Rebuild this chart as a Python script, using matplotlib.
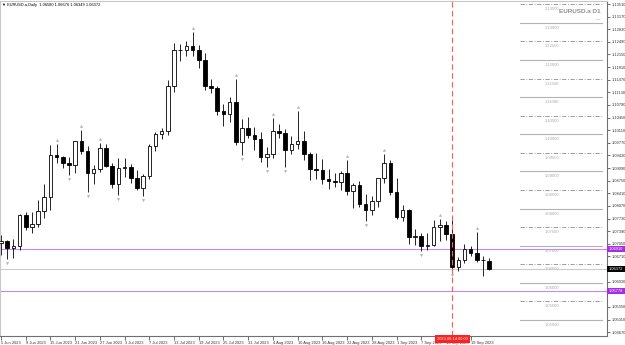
import matplotlib
matplotlib.use('Agg')
import matplotlib.pyplot as plt
from matplotlib.transforms import offset_copy, blended_transform_factory

# EURUSD.a daily candles, 5 Jun 2023 .. 22 Sep 2023
opens = [1.0708, 1.0712, 1.0693, 1.0698, 1.0782, 1.0750, 1.0757, 1.0793, 1.0831, 1.0945,
         1.0940, 1.0922, 1.0917, 1.0982, 1.0956, 1.0896, 1.0906, 1.0962, 1.0915, 1.0866,
         1.0910, 1.0912, 1.0882, 1.0855, 1.0888, 1.0968, 1.1000, 1.1009, 1.1131, 1.1227,
         1.1228, 1.1238, 1.1228, 1.1201, 1.1130, 1.1124, 1.1064, 1.1056, 1.1086, 1.0979,
         1.1016, 1.0997, 1.0986, 1.0939, 1.0948, 1.1010, 1.1004, 1.0958, 1.0975, 1.0982,
         1.0947, 1.0906, 1.0904, 1.0879, 1.0873, 1.0872, 1.0896, 1.0847, 1.0863, 1.0811,
         1.0796, 1.0820, 1.0881, 1.0924, 1.0844, 1.0776, 1.0797, 1.0722, 1.0726, 1.0698,
         1.0701, 1.0750, 1.0755, 1.0732, 1.0643, 1.0660, 1.0692, 1.0679, 1.0662, 1.0658]
highs = [1.0730, 1.0716, 1.0718, 1.0786, 1.0790, 1.0790, 1.0823, 1.0865, 1.0971, 1.0973,
         1.0942, 1.0938, 1.0983, 1.1012, 1.0969, 1.0918, 1.0976, 1.0975, 1.0924, 1.0935,
         1.0935, 1.0920, 1.0903, 1.0893, 1.0975, 1.1006, 1.1017, 1.1145, 1.1245, 1.1244,
         1.1250, 1.1276, 1.1240, 1.1218, 1.1150, 1.1130, 1.1082, 1.1100, 1.1149, 1.1041,
         1.1046, 1.1019, 1.1005, 1.0966, 1.1043, 1.1028, 1.1015, 1.0996, 1.1064, 1.1010,
         1.0953, 1.0950, 1.0933, 1.0906, 1.0895, 1.0902, 1.0930, 1.0870, 1.0875, 1.0840,
         1.0835, 1.0882, 1.0946, 1.0932, 1.0882, 1.0810, 1.0800, 1.0745, 1.0734, 1.0733,
         1.0768, 1.0772, 1.0766, 1.0769, 1.0670, 1.0704, 1.0698, 1.0737, 1.0672, 1.0668]
lows = [1.0675, 1.0665, 1.0667, 1.0688, 1.0743, 1.0733, 1.0751, 1.0774, 1.0796, 1.0924,
        1.0910, 1.0891, 1.0897, 1.0946, 1.0844, 1.0867, 1.0898, 1.0913, 1.0855, 1.0836,
        1.0885, 1.0870, 1.0850, 1.0833, 1.0880, 1.0955, 1.0987, 1.0998, 1.1114, 1.1197,
        1.1210, 1.1211, 1.1178, 1.1120, 1.1110, 1.1053, 1.1021, 1.1032, 1.0970, 1.0944,
        1.0990, 1.0957, 1.0925, 1.0913, 1.0937, 1.0990, 1.0913, 1.0946, 1.0960, 1.0930,
        1.0878, 1.0880, 1.0865, 1.0853, 1.0857, 1.0851, 1.0836, 1.0802, 1.0803, 1.0766,
        1.0783, 1.0805, 1.0870, 1.0836, 1.0771, 1.0766, 1.0705, 1.0702, 1.0686, 1.0688,
        1.0700, 1.0712, 1.0715, 1.0631, 1.0632, 1.0652, 1.0673, 1.0655, 1.0617, 1.0635]
closes = [1.0712, 1.0693, 1.0698, 1.0782, 1.0750, 1.0757, 1.0793, 1.0831, 1.0945, 1.0940,
          1.0922, 1.0917, 1.0982, 1.0956, 1.0896, 1.0906, 1.0962, 1.0915, 1.0866, 1.0910,
          1.0912, 1.0882, 1.0855, 1.0888, 1.0968, 1.1000, 1.1009, 1.1131, 1.1227, 1.1228,
          1.1238, 1.1228, 1.1201, 1.1130, 1.1124, 1.1064, 1.1056, 1.1086, 1.0979, 1.1016,
          1.0997, 1.0986, 1.0939, 1.0948, 1.1010, 1.1004, 1.0958, 1.0975, 1.0982, 1.0947,
          1.0906, 1.0904, 1.0879, 1.0873, 1.0872, 1.0896, 1.0847, 1.0863, 1.0811, 1.0796,
          1.0820, 1.0881, 1.0924, 1.0844, 1.0776, 1.0797, 1.0722, 1.0726, 1.0698, 1.0701,
          1.0750, 1.0755, 1.0732, 1.0643, 1.0660, 1.0692, 1.0679, 1.0662, 1.0660, 1.0637]

# fractal arrows (bar index)
fractal_up = [9, 13, 16, 31, 38, 44, 48, 56, 62, 71, 77]
fractal_down = [1, 11, 14, 19, 23, 39, 43, 46, 59, 68, 73]

# date axis, one label every 4 bars
date_labels = ["5 Jun 2023", "9 Jun 2023", "15 Jun 2023", "21 Jun 2023", "27 Jun 2023",
               "3 Jul 2023", "7 Jul 2023", "13 Jul 2023", "19 Jul 2023", "25 Jul 2023",
               "31 Jul 2023", "4 Aug 2023", "10 Aug 2023", "16 Aug 2023", "22 Aug 2023",
               "28 Aug 2023", "1 Sep 2023", "7 Sep 2023", "13 Sep 2023", "19 Sep 2023"]

# price scale labels on the right
price_labels = ["1.13510", "1.13170", "1.12830", "1.12490", "1.12150", "1.11810", "1.11470",
                "1.11130", "1.10790", "1.10450", "1.10110", "1.09770", "1.09430", "1.09090",
                "1.08750", "1.08410", "1.08070", "1.07730", "1.07390", "1.07050", "1.06710",
                "1.06370", "1.06030", "1.05690", "1.05350", "1.05010", "1.04670"]

# round-number levels drawn on the right side
levels = [1.135, 1.130, 1.125, 1.120, 1.115, 1.110, 1.105, 1.100, 1.095, 1.090,
          1.085, 1.080, 1.075, 1.070, 1.065, 1.060, 1.055, 1.050]

header = "▼ EURUSD.a,Daily  1.06580 1.06676 1.06349 1.06372"
bid_price = 1.06372
purple_levels = [1.06910, 1.05778]
vline_bar = 73
vline_label = "2023.09.14 00:00"

plt.rcParams['font.family'] = ['Liberation Sans', 'DejaVu Sans']

W, H = 625, 345
fig = plt.figure(figsize=(W / 100, H / 100), dpi=100)
fig.patch.set_facecolor('white')
ax = fig.add_axes([0, 9 / H, 607 / W, 335 / H])

n = len(opens)
xs = list(range(n))

# candles
for i in xs:
    o, h, l, c = opens[i], highs[i], lows[i], closes[i]
    ax.vlines(i, l, h, color='black', linewidth=0.6, zorder=2)
    bottom = min(o, c)
    height = max(abs(c - o), 0.00003)
    face = 'white' if c >= o else 'black'
    ax.bar(i, height, bottom=bottom, width=0.58, color=face, edgecolor='black',
           linewidth=0.6, zorder=3)

# fractals
up_tr = offset_copy(ax.transData, fig=fig, y=4, units='dots')
dn_tr = offset_copy(ax.transData, fig=fig, y=-4, units='dots')
ax.plot(fractal_up, [highs[i] for i in fractal_up], linestyle='none', marker='^',
        markersize=1.7, color='#b4b4b4', markeredgewidth=0.3, transform=up_tr, zorder=4)
ax.plot(fractal_down, [lows[i] for i in fractal_down], linestyle='none', marker='v',
        markersize=1.7, color='#b4b4b4', markeredgewidth=0.3, transform=dn_tr, zorder=4)

ax.set_xlim(-0.16, 98.06)
ax.set_ylim(1.04566, 1.13591)

# round levels on the right
x0, x1 = 520 / 607, 602 / 607
lab_tr = offset_copy(ax.get_yaxis_transform(), fig=fig, y=-5, units='dots')
for lv in levels:
    if round(lv * 1000) % 10 == 5:
        ax.axhline(lv, xmin=x0, xmax=x1, color='#8c8c8c', linewidth=0.6,
                   linestyle=(0, (5, 2, 1, 2)), zorder=1)
    else:
        ax.axhline(lv, xmin=x0, xmax=x1, color='#b4b4b4', linewidth=0.8, zorder=1)
    ax.text(552 / 607, lv, f"{lv:.5f}", transform=lab_tr, ha='center', va='center',
            fontsize=3.0, color='#a8a8a8', zorder=1)

# full width lines
ax.axhline(bid_price, color='#c8c8c8', linewidth=0.7, zorder=1)
for p in purple_levels:
    ax.axhline(p, color='#c58af0', linewidth=0.8, zorder=1)

# red vertical line
ax.axvline(vline_bar, color='#ff5a5a', linewidth=0.8, linestyle=(0, (5, 3)), zorder=5)

# axes styling
for s in ['left', 'top']:
    ax.spines[s].set_color('#c8c8c8')
    ax.spines[s].set_linewidth(0.8)
ax.spines['right'].set_color('#707070')
ax.spines['bottom'].set_color('#707070')
ax.spines['right'].set_linewidth(0.8)
ax.spines['bottom'].set_linewidth(0.8)

# scale labels hidden where a price box sits on top of them
box_prices = purple_levels + [bid_price]
shown = [v for v in price_labels
         if min(abs(float(v) - b) for b in box_prices) > 0.0012]
ax.yaxis.tick_right()
ax.set_yticks([float(v) for v in shown])
ax.set_yticklabels(shown)
ax.tick_params(axis='y', direction='out', length=2, width=0.5, pad=1.2,
               labelsize=2.9, colors='#333333')

tick_bars = [4 * k for k in range(len(date_labels))]
ax.set_xticks(tick_bars)
ax.set_xticklabels(date_labels, ha='left')
ax.tick_params(axis='x', direction='out', length=3, width=0.5, pad=0.8,
               labelsize=2.9, colors='#333333')

# price boxes on the axis
ytr = ax.get_yaxis_transform()
for p in purple_levels:
    ax.text(1.003, p, f"{p:.5f}", transform=ytr, ha='left', va='center', fontsize=2.9,
            color='white', clip_on=False, zorder=10,
            bbox=dict(boxstyle='square,pad=0.35', facecolor='#a52ee0', edgecolor='none'))
ax.text(1.003, bid_price, f"{bid_price:.5f}", transform=ytr, ha='left', va='center',
        fontsize=2.9, color='white', clip_on=False, zorder=10,
        bbox=dict(boxstyle='square,pad=0.35', facecolor='black', edgecolor='none'))

# date box of the vertical line
xtr = blended_transform_factory(ax.transData, ax.transAxes)
ax.text(vline_bar, -0.004, vline_label, transform=xtr, ha='center', va='top',
        fontsize=2.9, color='white', clip_on=False, zorder=10,
        bbox=dict(boxstyle='square,pad=0.5', facecolor='#ff2020', edgecolor='none'))

# titles
ax.text(0.004, 0.993, header, transform=ax.transAxes, ha='left', va='top',
        fontsize=2.9, color='black')
ax.text(0.99, 0.975, "EURUSD.a D1", transform=ax.transAxes, ha='right', va='top',
        fontsize=4.6, color='#909090', fontweight='bold')
ax.text(0.99, 0.95, "----", transform=ax.transAxes, ha='right', va='top',
        fontsize=3, color='#555555')

fig.savefig('out.png', dpi=100, facecolor='white')
